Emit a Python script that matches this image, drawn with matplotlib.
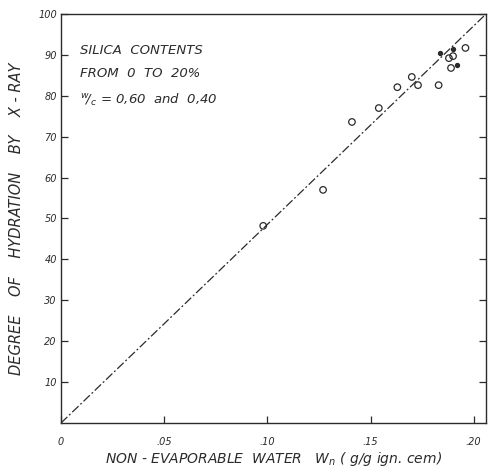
import numpy as np
import matplotlib
matplotlib.use("Agg")
import matplotlib.pyplot as plt

wn = [0.098, 0.127, 0.141, 0.154, 0.163, 0.170, 0.173, 0.183, 0.188, 0.190, 0.189, 0.196]
xray = [48.2, 57.0, 73.6, 77.0, 82.1, 84.6, 82.6, 82.6, 89.2, 89.7, 86.8, 91.7]
# small filled marks near the top cluster
wn_small = [0.1835, 0.190, 0.192]
xray_small = [90.5, 91.4, 87.5]

x_ticks = [0, 0.05, 0.10, 0.15, 0.20]
x_labels = ["0", ".05", ".10", ".15", ".20"]
y_ticks = [10, 20, 30, 40, 50, 60, 70, 80, 90, 100]

ink = "#2b2b2b"
plt.rcParams["font.family"] = "DejaVu Sans"
plt.rcParams["font.style"] = "italic"

fig = plt.figure(figsize=(4.9, 4.74), dpi=100)
ax = fig.add_axes([0.1245, 0.1076, 0.8675, 0.8629])

x_end = 0.206
ax.plot([0, x_end], [0, 100], color=ink, lw=0.9, dashes=(7, 2, 1.5, 2))
ax.scatter(wn, xray, s=22, facecolors="none", edgecolors=ink, linewidths=0.9, zorder=3)
ax.scatter(wn_small, xray_small, s=8, color=ink, zorder=3)

ax.set_xlim(0, x_end)
ax.set_ylim(0, 100)
ax.set_xticks(x_ticks)
ax.set_xticklabels(x_labels)
ax.set_yticks(y_ticks)
ax.tick_params(direction="in", length=5, width=0.9, colors=ink, labelsize=7,
               right=True, top=False)
ax.tick_params(axis="x", pad=10)
ax.tick_params(axis="y", pad=3)
for s in ax.spines.values():
    s.set_color(ink)
    s.set_linewidth(1.0)

ax.set_xlabel("NON - EVAPORABLE  WATER   $W_n$ ( g/g ign. cem)", fontsize=10,
              color=ink, labelpad=2)
ax.set_ylabel("DEGREE    OF    HYDRATION    BY    X - RAY", fontsize=10.5,
              color=ink, labelpad=10)

ax.text(0.009, 91, "SILICA  CONTENTS", fontsize=9.5, color=ink, va="center")
ax.text(0.009, 85.5, "FROM  0  TO  20%", fontsize=9.5, color=ink, va="center")
ax.text(0.009, 79, "$^w\\!/_c$ = 0,60  and  0,40", fontsize=9.5, color=ink, va="center")

fig.savefig("out.png", dpi=100)
